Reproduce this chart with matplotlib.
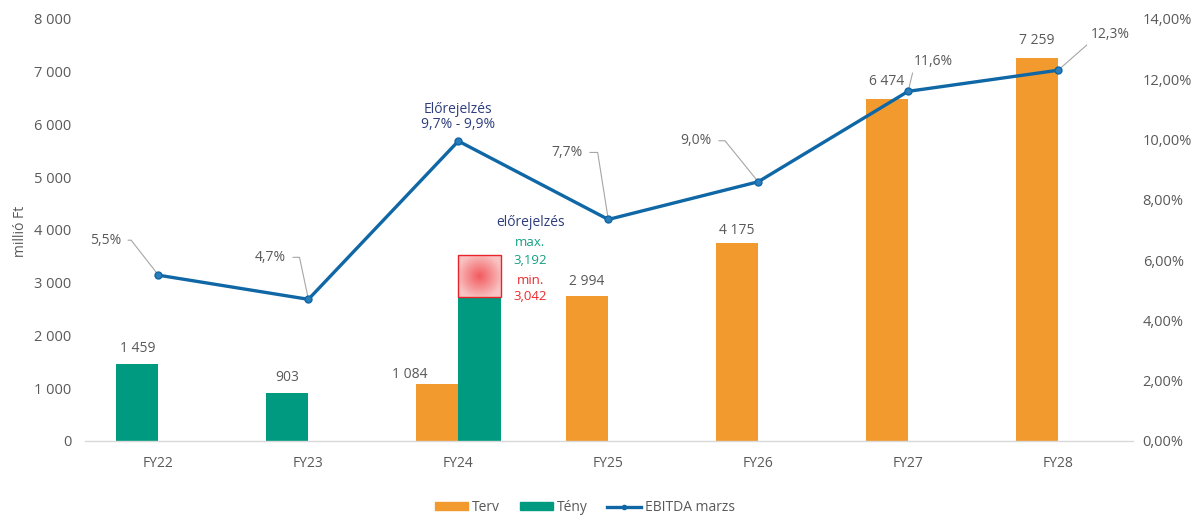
import numpy as np
import matplotlib
matplotlib.use('Agg')
import matplotlib.pyplot as plt
from matplotlib.patches import Rectangle, Patch
from matplotlib.lines import Line2D
from matplotlib.ticker import FuncFormatter, MultipleLocator
from matplotlib.colors import LinearSegmentedColormap

plt.rcParams['font.family'] = ['Open Sans', 'DejaVu Sans']

# ---------------- data ----------------
categories = ['FY22', 'FY23', 'FY24', 'FY25', 'FY26', 'FY27', 'FY28']
terv = [np.nan, np.nan, 1084, 2740, 3750, 6474, 7259]          # drawn bar heights
terv_labels = ['', '', '1 084', '2 994', '4 175', '6 474', '7 259']
teny = [1459, 903, 2735, np.nan, np.nan, np.nan, np.nan]
teny_labels = ['1 459', '903', '', '', '', '', '']
ebitda = [5.5, 4.7, 9.95, 7.35, 8.6, 11.6, 12.3]                 # %
ebitda_labels = ['5,5%', '4,7%', 'Előrejelzés\n9,7% - 9,9%', '7,7%', '9,0%', '11,6%', '12,3%']
forecast_range = [2735, 3520]   # FY24 forecast box (millió Ft)
forecast_title = 'előrejelzés'
forecast_max = ['max.', '3,192']
forecast_min = ['min.', '3,042']

# ---------------- style ----------------
C_TERV = '#F29A2E'
C_TENY = '#009A80'
C_LINE = '#0F67A6'
C_TXT = '#595959'
C_NAVY = '#2E3E7E'
C_RED = '#EE2A2E'
C_TEAL = '#13A085'
C_LEAD = '#A6A6A6'
FS = 10
FT = 10.5

fig = plt.figure(figsize=(12.01, 5.19), dpi=100)
ax = fig.add_axes([0.0708, 0.1503, 0.8726, 0.8131])
ax2 = ax.twinx()

x = np.arange(len(categories))
w = 0.283
teny_slot = [-1, -1, 1, -1, -1, -1, -1]

ax.bar(x - w / 2, terv, width=w, color=C_TERV, zorder=2)
teny_x = x + np.array(teny_slot) * w / 2
ax.bar(teny_x, teny, width=w, color=C_TENY, zorder=2)

# forecast gradient box on FY24 Tény
fx = teny_x[2]
cmap = LinearSegmentedColormap.from_list('g', ['#F25A5E', '#F58E90', '#F9C3C4'])
yy, xx = np.mgrid[-1:1:80j, -1:1:80j]
rr = np.sqrt(xx ** 2 + yy ** 2)
ax.imshow(rr, cmap=cmap, extent=(fx - w / 2, fx + w / 2, forecast_range[0], forecast_range[1]),
          aspect='auto', zorder=3, vmin=0, vmax=1.1)
ax.add_patch(Rectangle((fx - w / 2, forecast_range[0]), w, forecast_range[1] - forecast_range[0],
                       fill=False, edgecolor='#E8262A', lw=1.0, zorder=4))

# bar labels
terv_off = [(0, 0), (0, 0), (-27, 9), (0, 15), (0, 13), (0, 18), (0, 18)]
for i, (v, lab) in enumerate(zip(terv, terv_labels)):
    if lab:
        ax.annotate(lab, (x[i] - w / 2, v), xytext=terv_off[i], textcoords='offset pixels',
                    ha='center', va='center', fontsize=FS, color=C_TXT, zorder=5)
for i, (v, lab) in enumerate(zip(teny, teny_labels)):
    if lab:
        ax.annotate(lab, (teny_x[i], v), xytext=(0, 16), textcoords='offset pixels',
                    ha='center', va='center', fontsize=FS, color=C_TXT, zorder=5)

# forecast text
tx = x[2] + 0.48
ax.text(tx, 4133, forecast_title, ha='center', va='center', fontsize=FS, color=C_NAVY)
ax.text(tx, 3755, forecast_max[0], ha='center', va='center', fontsize=FS - 0.5, color=C_TEAL)
ax.text(tx, 3430, forecast_max[1], ha='center', va='center', fontsize=FS - 0.5, color=C_TEAL)
ax.text(tx, 3050, forecast_min[0], ha='center', va='center', fontsize=FS - 0.5, color=C_RED)
ax.text(tx, 2730, forecast_min[1], ha='center', va='center', fontsize=FS - 0.5, color=C_RED)

# EBITDA line
ax2.plot(x, ebitda, color=C_LINE, lw=2.4, marker='o', markersize=5,
         markerfacecolor='#2A7DB8', markeredgecolor=C_LINE, zorder=6)

# line labels with leaders
leader = {
    0: ((-53, 35), 'angle', -52),
    1: ((-38, 42), 'angle', -78),
    3: ((-41, 67), 'angle', -81),
    4: ((-62, 41), 'angle', -51),
    5: ((25, 30), 'straight', None),
    6: ((52, 36), 'straight', None),
}
for i, (v, lab) in enumerate(zip(ebitda, ebitda_labels)):
    if i == 2:
        ax2.annotate(lab, (x[i], v), xytext=(0, 9), textcoords='offset pixels',
                     ha='center', va='bottom', fontsize=FS, color=C_NAVY, linespacing=1.05)
        continue
    off, kind, ang = leader[i]
    if kind == 'angle':
        ap = dict(arrowstyle='-', color=C_LEAD, lw=0.8,
                  connectionstyle=f'angle,angleA=0,angleB={ang},rad=0',
                  relpos=(1, 0.5), shrinkA=3, shrinkB=0)
    else:
        ap = dict(arrowstyle='-', color=C_LEAD, lw=0.8, relpos=(0, 0), shrinkA=1, shrinkB=2)
    ax2.annotate(lab, (x[i], v), xytext=off, textcoords='offset pixels',
                 ha='center', va='center', fontsize=FS, color=C_TXT, arrowprops=ap)

# axes formatting
ax.set_xlim(-0.49, 6.5)
ax.set_ylim(0, 8000)
ax2.set_ylim(0, 14)
ax.yaxis.set_major_locator(MultipleLocator(1000))
ax2.yaxis.set_major_locator(MultipleLocator(2))
ax.yaxis.set_major_formatter(FuncFormatter(lambda v, p: f'{int(v):,}'.replace(',', ' ')))
ax2.yaxis.set_major_formatter(FuncFormatter(lambda v, p: f'{v:.2f}%'.replace('.', ',')))
ax.set_xticks(x)
ax.set_xticklabels(categories)

for a in (ax, ax2):
    for s in ('top', 'left', 'right', 'bottom'):
        a.spines[s].set_visible(False)
ax.spines['bottom'].set_visible(True)
ax.spines['bottom'].set_color('#D9D9D9')
ax.spines['bottom'].set_linewidth(1.0)

ax.tick_params(axis='y', length=0, pad=10, labelsize=FT, labelcolor=C_TXT)
ax.tick_params(axis='x', length=0, pad=11, labelsize=FS, labelcolor=C_TXT)
ax2.tick_params(axis='y', length=0, pad=7, labelsize=FT, labelcolor=C_TXT)

fig.text(0.017, 0.555, 'millió Ft', rotation=90, ha='center', va='center', fontsize=FS, color=C_TXT)

handles = [Patch(color=C_TERV, label='Terv'), Patch(color=C_TENY, label='Tény'),
           Line2D([0], [0], color=C_LINE, lw=2.4, marker='o', markersize=3, label='EBITDA marzs')]
fig.legend(handles=handles, loc='center', bbox_to_anchor=(0.487, 0.022), ncol=3, frameon=False,
           fontsize=FS, labelcolor=C_TXT, handlelength=2.4, handleheight=0.55, columnspacing=1.4,
           handletextpad=0.3)

fig.savefig('out.png', dpi=100)
